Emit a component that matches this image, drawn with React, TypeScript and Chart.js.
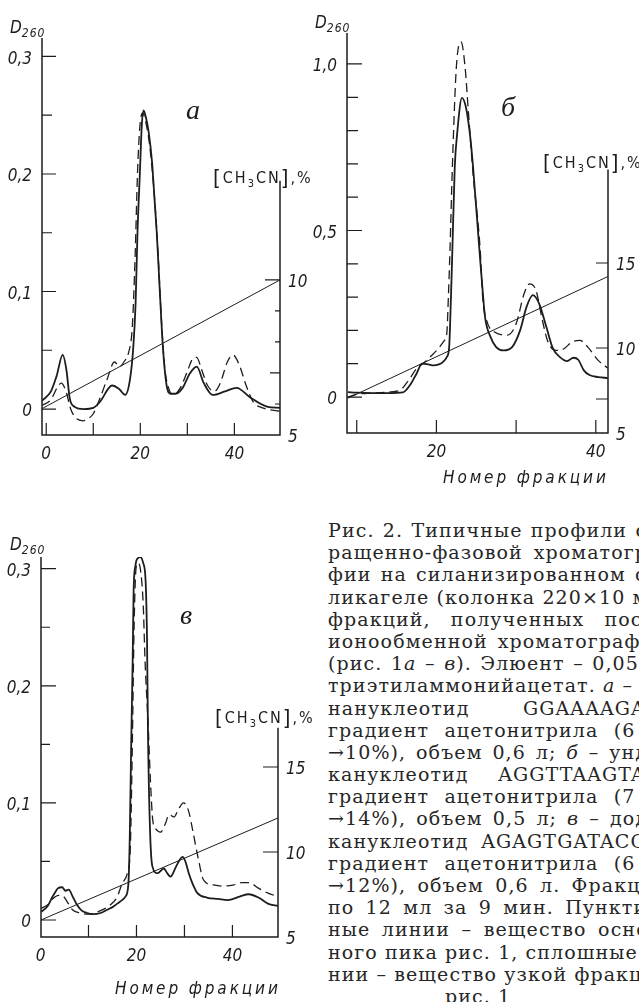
import React, { useEffect, useRef } from 'react';
import { Chart, registerables } from 'chart.js';

Chart.register(...registerables);

// ---------- Panel a (GGAAAAGAC) ----------
const aSolidFraction = [-0.9, 1, 2.2, 3.5, 4.3, 5, 6, 8, 10, 11.4, 14, 15.5, 16.8, 17.8, 18.5, 19.0, 19.4, 19.9, 20.3, 20.7, 21.2, 21.8, 22.5, 23.0, 23.5, 24.1, 24.8, 25.6, 26.5, 27.5, 29, 30.5, 32, 33.5, 35.4, 38, 40.5, 43.3, 46.9, 49.7];
const aSolidD = [0.007, 0.015, 0.028, 0.046, 0.033, 0.009, 0.002, 0.000, 0.001, 0.006, 0.020, 0.017, 0.012, 0.025, 0.052, 0.090, 0.150, 0.200, 0.240, 0.254, 0.248, 0.235, 0.210, 0.180, 0.150, 0.104, 0.053, 0.020, 0.013, 0.013, 0.018, 0.030, 0.036, 0.022, 0.012, 0.015, 0.018, 0.010, 0.002, 0.001];
const aDashedFraction = [-0.9, 1, 2.3, 3.2, 4.2, 5.2, 6.4, 7.8, 9, 10, 11.5, 13, 14.5, 15.6, 16.5, 17.5, 18.3, 18.9, 19.4, 19.9, 20.5, 21.1, 21.8, 22.5, 23.2, 23.8, 24.5, 25.2, 26, 27, 28.5, 30, 31, 32, 33, 34.3, 35.8, 37, 38.5, 39.7, 41, 42.5, 44, 46, 49.7];
const aDashedD = [0.003, 0.008, 0.018, 0.022, 0.015, 0.000, -0.008, -0.010, -0.008, -0.004, 0.010, 0.026, 0.040, 0.036, 0.040, 0.048, 0.070, 0.130, 0.200, 0.240, 0.252, 0.245, 0.230, 0.205, 0.170, 0.130, 0.075, 0.035, 0.018, 0.012, 0.018, 0.032, 0.042, 0.044, 0.034, 0.020, 0.015, 0.022, 0.040, 0.046, 0.038, 0.020, 0.006, 0.001, -0.002];
const aGradientFraction = [-0.9, 49.7];
const aGradientPct = [5.85, 10.0];

// ---------- Panel б (AGGTTAAGTAC) ----------
const bSolidFraction = [8.9, 10, 12, 14, 15.8, 16.8, 17.5, 18.2, 19.0, 19.6, 20.3, 20.8, 21.3, 21.6, 21.8, 22.0, 22.3, 22.6, 23.2, 23.7, 24.2, 24.6, 25.4, 25.8, 26.1, 26.8, 27.5, 28.4, 29.5, 30.5, 31.3, 32.1, 32.9, 33.8, 34.6, 35.5, 36.4, 37.2, 37.8, 38.5, 39.2, 40.3, 41.5];
const bSolidD = [0.015, 0.013, 0.012, 0.012, 0.014, 0.040, 0.070, 0.100, 0.098, 0.095, 0.098, 0.105, 0.120, 0.150, 0.280, 0.440, 0.690, 0.790, 0.898, 0.870, 0.790, 0.690, 0.440, 0.320, 0.240, 0.180, 0.150, 0.140, 0.150, 0.200, 0.270, 0.306, 0.280, 0.210, 0.147, 0.120, 0.108, 0.118, 0.112, 0.080, 0.066, 0.060, 0.057];
const bDashedFraction = [8.9, 10, 12, 14, 15.4, 16.5, 17.5, 18.3, 19.2, 20.4, 21.0, 21.3, 21.5, 21.7, 22.0, 22.5, 23.1, 23.6, 24.0, 24.6, 25.5, 25.8, 26.3, 27.3, 28.9, 30.0, 31.0, 31.7, 32.5, 33.3, 34.0, 35.0, 36.0, 37.0, 38.0, 39.0, 40.3, 41.5];
const bDashedD = [0.000, 0.008, 0.012, 0.015, 0.020, 0.050, 0.085, 0.100, 0.120, 0.150, 0.170, 0.190, 0.300, 0.440, 0.690, 0.990, 1.066, 0.990, 0.860, 0.670, 0.440, 0.300, 0.230, 0.195, 0.186, 0.220, 0.310, 0.340, 0.320, 0.230, 0.165, 0.140, 0.145, 0.165, 0.170, 0.150, 0.110, 0.087];
const bGradientFraction = [8.9, 41.5];
const bGradientPct = [7.05, 14.2];

// ---------- Panel в (AGAGTGATAC…) ----------
const vSolidFraction = [0.1, 1.5, 2.5, 3.1, 3.6, 4.5, 5.2, 5.9, 6.7, 7.6, 8.6, 9.7, 11, 12.5, 14, 15, 16, 17, 17.7, 18.3, 18.6, 18.9, 19.2, 19.4, 19.8, 20.3, 20.8, 21.4, 21.9, 22.2, 22.4, 22.8, 23.3, 24.4, 25.7, 26.4, 27.1, 28.3, 29.6, 30.2, 30.9, 31.8, 32.7, 34.8, 37, 39, 41.5, 43.4, 45.5, 47.4, 49.5];
const vSolidD = [0.007, 0.012, 0.020, 0.024, 0.027, 0.028, 0.025, 0.026, 0.020, 0.013, 0.008, 0.006, 0.005, 0.006, 0.009, 0.011, 0.014, 0.017, 0.020, 0.030, 0.070, 0.150, 0.220, 0.280, 0.303, 0.309, 0.310, 0.305, 0.290, 0.240, 0.160, 0.080, 0.046, 0.040, 0.044, 0.040, 0.037, 0.046, 0.054, 0.050, 0.040, 0.030, 0.023, 0.019, 0.018, 0.017, 0.020, 0.022, 0.019, 0.014, 0.012];
const vDashedFraction = [0.1, 1.5, 2.5, 3.8, 4.5, 5.5, 6.6, 8.3, 10, 12.5, 14.6, 16, 17, 18.1, 18.7, 19.1, 19.5, 19.9, 20.3, 20.8, 21.4, 21.8, 22.4, 22.9, 23.4, 24, 25, 26, 26.8, 27.8, 28.8, 29.8, 30.5, 31, 31.8, 32.8, 34, 36, 38, 40.3, 42, 43.4, 45.5, 47.4, 49.5];
const vDashedD = [0.010, 0.013, 0.018, 0.021, 0.021, 0.016, 0.009, 0.006, 0.005, 0.008, 0.013, 0.020, 0.031, 0.040, 0.060, 0.140, 0.250, 0.300, 0.305, 0.300, 0.270, 0.220, 0.170, 0.120, 0.085, 0.078, 0.075, 0.082, 0.090, 0.088, 0.095, 0.100, 0.097, 0.091, 0.075, 0.054, 0.034, 0.030, 0.029, 0.030, 0.032, 0.032, 0.027, 0.023, 0.020];
const vGradientFraction = [0.1, 49.5];
const vGradientPct = [6.0, 12.0];

// ---------- Tick values and labels ----------
const aLeftTicks = [0, 0.05, 0.1, 0.15, 0.2, 0.25, 0.3];
const aLeftLabels = ['0', '', '0,1', '', '0,2', '', '0,3'];
const aRightTicks = [5, 6, 7, 8, 9, 10];
const aRightLabels = ['5', '', '', '', '', '10'];
const aBottomTicks = [0, 10, 20, 30, 40];
const aBottomLabels = ['0', '', '20', '', '40'];

const bLeftTicks = [0, 0.1, 0.2, 0.3, 0.4, 0.5, 0.6, 0.7, 0.8, 0.9, 1.0];
const bLeftLabels = ['0', '', '', '', '', '0,5', '', '', '', '', '1,0'];
const bRightTicks = [5, 7, 10, 15];
const bRightLabels = ['5', '', '10', '15'];
const bBottomTicks = [10, 20, 30, 40];
const bBottomLabels = ['', '20', '', '40'];

const vLeftTicks = [0, 0.05, 0.1, 0.15, 0.2, 0.25, 0.3];
const vLeftLabels = ['0', '', '0,1', '', '0,2', '', '0,3'];
const vRightTicks = [5, 10, 15];
const vRightLabels = ['5', '10', '15'];
const vBottomTicks = [0, 10, 20, 30, 40];
const vBottomLabels = ['0', '', '20', '', '40'];

const INK = '#1d1d1d';
const TICK_FONT = 'italic 17px "DejaVu Sans Condensed", "DejaVu Sans", sans-serif';

type PanelSpec = {
  left: number; top: number; width: number; height: number;
  padding: { left: number; top: number; right: number; bottom: number };
  x: [number, number]; y: [number, number]; y1: [number, number];
  solidX: number[]; solidY: number[];
  dashedX: number[]; dashedY: number[];
  gradX: number[]; gradY: number[];
  leftTicks: number[]; leftLabels: string[]; leftMajor: number[];
  rightTicks: number[]; rightLabels: string[]; rightLen: (v: number) => number;
  bottomTicks: number[]; bottomLabels: string[];
  rightTop: number;
  minorLen: number; majorLen: number; bottomLen: number;
};

const zip = (xs: number[], ys: number[]) => xs.map((x, i) => ({ x, y: ys[i] }));

function makeAxesPlugin(p: PanelSpec) {
  return {
    id: 'sciAxes',
    afterDatasetsDraw(chart: any) {
      const { ctx, chartArea: ca, scales } = chart;
      const sx = scales.x, sy = scales.y, sy1 = scales.y1;
      ctx.save();
      ctx.strokeStyle = INK;
      ctx.fillStyle = INK;
      ctx.lineWidth = 1.5;
      ctx.setLineDash([]);
      ctx.beginPath();
      ctx.moveTo(ca.left, ca.top);
      ctx.lineTo(ca.left, ca.bottom);
      ctx.lineTo(ca.right, ca.bottom);
      ctx.lineTo(ca.right, sy1.getPixelForValue(p.rightTop));
      ctx.stroke();

      ctx.lineWidth = 1.2;
      ctx.beginPath();
      p.leftTicks.forEach((v) => {
        const py = sy.getPixelForValue(v);
        const len = p.leftMajor.some((m) => Math.abs(m - v) < 1e-9) ? p.majorLen : p.minorLen;
        ctx.moveTo(ca.left, py);
        ctx.lineTo(ca.left + len, py);
      });
      p.rightTicks.forEach((v) => {
        const py = sy1.getPixelForValue(v);
        const len = p.rightLen(v);
        if (len > 0) {
          ctx.moveTo(ca.right, py);
          ctx.lineTo(ca.right - len, py);
        }
      });
      p.bottomTicks.forEach((v) => {
        if (v <= sx.min + 0.5) return;
        const px = sx.getPixelForValue(v);
        ctx.moveTo(px, ca.bottom);
        ctx.lineTo(px, ca.bottom - p.bottomLen);
      });
      ctx.stroke();

      ctx.font = TICK_FONT;
      ctx.textBaseline = 'middle';
      ctx.textAlign = 'right';
      p.leftTicks.forEach((v, i) => {
        const t = p.leftLabels[i];
        if (t) ctx.fillText(t, ca.left - 10, sy.getPixelForValue(v) + 3);
      });
      ctx.textAlign = 'left';
      p.rightTicks.forEach((v, i) => {
        const t = p.rightLabels[i];
        if (t) ctx.fillText(t, ca.right + 8, sy1.getPixelForValue(v) + 3);
      });
      ctx.textAlign = 'center';
      ctx.textBaseline = 'top';
      p.bottomTicks.forEach((v, i) => {
        const t = p.bottomLabels[i];
        if (t) ctx.fillText(t, sx.getPixelForValue(v), ca.bottom + 11);
      });
      ctx.restore();
    },
  };
}

function Panel({ p }: { p: PanelSpec }) {
  const ref = useRef<HTMLCanvasElement>(null);
  useEffect(() => {
    const chart = new Chart(ref.current as HTMLCanvasElement, {
      type: 'line',
      data: {
        datasets: [
          {
            data: zip(p.solidX, p.solidY), borderColor: INK, borderWidth: 1.8,
            pointRadius: 0, cubicInterpolationMode: 'monotone', yAxisID: 'y', fill: false,
          },
          {
            data: zip(p.dashedX, p.dashedY), borderColor: INK, borderWidth: 1.3, borderDash: [9, 5],
            pointRadius: 0, cubicInterpolationMode: 'monotone', yAxisID: 'y', fill: false,
          },
          {
            data: zip(p.gradX, p.gradY), borderColor: INK, borderWidth: 1,
            pointRadius: 0, tension: 0, yAxisID: 'y1', fill: false,
          },
        ],
      } as any,
      options: {
        animation: false,
        responsive: false,
        events: [],
        layout: { padding: p.padding },
        plugins: { legend: { display: false }, tooltip: { enabled: false } },
        scales: {
          x: { type: 'linear', display: false, min: p.x[0], max: p.x[1] },
          y: { type: 'linear', display: false, min: p.y[0], max: p.y[1] },
          y1: { type: 'linear', display: false, position: 'right', min: p.y1[0], max: p.y1[1] },
        },
      } as any,
      plugins: [makeAxesPlugin(p)],
    });
    return () => chart.destroy();
  }, []);
  return (
    <canvas
      ref={ref}
      width={p.width}
      height={p.height}
      style={{ position: 'absolute', left: p.left, top: p.top, width: p.width, height: p.height }}
    />
  );
}

const panelA: PanelSpec = {
  left: 0, top: 0, width: 320, height: 475,
  padding: { left: 42, top: 38, right: 40, bottom: 40 },
  x: [-0.9, 49.7], y: [-0.0221, 0.3157], y1: [5, 17.8],
  solidX: aSolidFraction, solidY: aSolidD, dashedX: aDashedFraction, dashedY: aDashedD,
  gradX: aGradientFraction, gradY: aGradientPct,
  leftTicks: aLeftTicks, leftLabels: aLeftLabels, leftMajor: [0, 0.1, 0.2, 0.3],
  rightTicks: aRightTicks, rightLabels: aRightLabels,
  rightLen: (v) => (v === 10 ? 15 : v === 7 ? 10 : v === 5 ? 0 : 5),
  bottomTicks: aBottomTicks, bottomLabels: aBottomLabels,
  rightTop: 13.2, minorLen: 10, majorLen: 14, bottomLen: 12,
};

const panelB: PanelSpec = {
  left: 300, top: 0, width: 339, height: 500,
  padding: { left: 47, top: 33, right: 31, bottom: 67 },
  x: [8.78, 41.53], y: [-0.108, 1.093], y1: [5, 28.53],
  solidX: bSolidFraction, solidY: bSolidD, dashedX: bDashedFraction, dashedY: bDashedD,
  gradX: bGradientFraction, gradY: bGradientPct,
  leftTicks: bLeftTicks, leftLabels: bLeftLabels, leftMajor: [0, 0.5, 1.0],
  rightTicks: bRightTicks, rightLabels: bRightLabels,
  rightLen: (v) => (v === 5 ? 0 : 12),
  bottomTicks: bBottomTicks, bottomLabels: bBottomLabels,
  rightTop: 20.5, minorLen: 11, majorLen: 15, bottomLen: 13,
};

const panelV: PanelSpec = {
  left: 0, top: 500, width: 320, height: 502,
  padding: { left: 41, top: 57, right: 42, bottom: 65 },
  x: [0.1, 49.5], y: [-0.0145, 0.31], y1: [5, 27.35],
  solidX: vSolidFraction, solidY: vSolidD, dashedX: vDashedFraction, dashedY: vDashedD,
  gradX: vGradientFraction, gradY: vGradientPct,
  leftTicks: vLeftTicks, leftLabels: vLeftLabels, leftMajor: [0, 0.1, 0.2, 0.3],
  rightTicks: vRightTicks, rightLabels: vRightLabels,
  rightLen: (v) => (v === 5 ? 0 : 15),
  bottomTicks: vBottomTicks, bottomLabels: vBottomLabels,
  rightTop: 17.3, minorLen: 9, majorLen: 15, bottomLen: 12,
};

const SANS_C = '"DejaVu Sans Condensed", "DejaVu Sans", sans-serif';

function DLabel({ left, top }: { left: number; top: number }) {
  return (
    <div style={{ position: 'absolute', left, top, fontFamily: SANS_C, fontStyle: 'italic', color: INK, lineHeight: 1, whiteSpace: 'nowrap' }}>
      <span style={{ fontSize: 17 }}>D</span>
      <span style={{ fontSize: 12, position: 'relative', top: 4, letterSpacing: 1 }}>260</span>
    </div>
  );
}

function ConcLabel({ left, top }: { left: number; top: number }) {
  return (
    <div style={{ position: 'absolute', left, top, fontFamily: SANS_C, fontSize: 16, color: INK, lineHeight: 1, whiteSpace: 'nowrap', letterSpacing: 2 }}>
      <span style={{ fontSize: 22, fontWeight: 200, position: 'relative', top: 2 }}>[</span>
      CH<span style={{ fontSize: 11, position: 'relative', top: 4 }}>3</span>CN
      <span style={{ fontSize: 22, fontWeight: 200, position: 'relative', top: 2 }}>]</span>,%
    </div>
  );
}

function Letter({ left, top, text }: { left: number; top: number; text: string }) {
  return (
    <div style={{ position: 'absolute', left, top, fontFamily: '"Liberation Serif", serif', fontStyle: 'italic', fontSize: 28, color: INK, lineHeight: 1 }}>
      {text}
    </div>
  );
}

function XTitle({ left, top }: { left: number; top: number }) {
  return (
    <div style={{ position: 'absolute', left, top, fontFamily: SANS_C, fontStyle: 'italic', fontSize: 17, color: INK, lineHeight: 1, whiteSpace: 'nowrap', letterSpacing: 2.9 }}>
      Номер фракции
    </div>
  );
}

const captionLines: React.ReactNode[] = [
  'Рис. 2. Типичные профили об-',
  'ращенно-фазовой хроматогра-',
  'фии на силанизированном си-',
  'ликагеле (колонка 220×10 мм)',
  'фракций, полученных после',
  'ионообменной хроматографии',
  <>(рис. 1<i>а</i> – <i>в</i>). Элюент – 0,05 М</>,
  <>триэтиламмонийацетат. <i>а</i> – но-</>,
  'нануклеотид GGAAAAGAC,',
  'градиент ацетонитрила (6 →',
  <>→10%), объем 0,6 л; <i>б</i> – унде-</>,
  'кануклеотид AGGTTAAGTAC,',
  'градиент ацетонитрила (7 →',
  <>→14%), объем 0,5 л; <i>в</i> – доде-</>,
  'кануклеотид AGAGTGATACCA,',
  'градиент ацетонитрила (6 →',
  '→12%), объем 0,6 л. Фракции',
  'по 12 мл за 9 мин. Пунктир-',
  'ные линии – вещество основ-',
  'ного пика рис. 1, сплошные ли-',
  'нии – вещество узкой фракции',
];

function Caption() {
  return (
    <div style={{ position: 'absolute', left: 328, top: 519, width: 340, fontFamily: '"DejaVu Serif", serif', fontSize: 19, lineHeight: '22.2px', color: '#262626', letterSpacing: 1.1 }}>
      {captionLines.map((l, i) => (
        <div key={i} style={{ textAlign: 'justify', textAlignLast: 'justify', whiteSpace: 'nowrap', height: 22.2 } as any}>
          {l}
        </div>
      ))}
      <div style={{ width: 300, textAlign: 'center' }}>рис. 1</div>
    </div>
  );
}

export default function App() {
  return (
    <div style={{ position: 'absolute', left: 0, top: 0, width: 639, height: 1002, overflow: 'hidden', background: '#fff' }}>
      <Panel p={panelA} />
      <Panel p={panelB} />
      <Panel p={panelV} />
      <DLabel left={10} top={19} />
      <DLabel left={315} top={14} />
      <DLabel left={10} top={536} />
      <Letter left={186} top={96} text="a" />
      <Letter left={501} top={93} text="б" />
      <Letter left={180} top={601} text="в" />
      <ConcLabel left={213} top={165} />
      <ConcLabel left={543} top={150} />
      <ConcLabel left={215} top={705} />
      <XTitle left={443} top={469} />
      <XTitle left={115} top={980} />
      <Caption />
    </div>
  );
}
